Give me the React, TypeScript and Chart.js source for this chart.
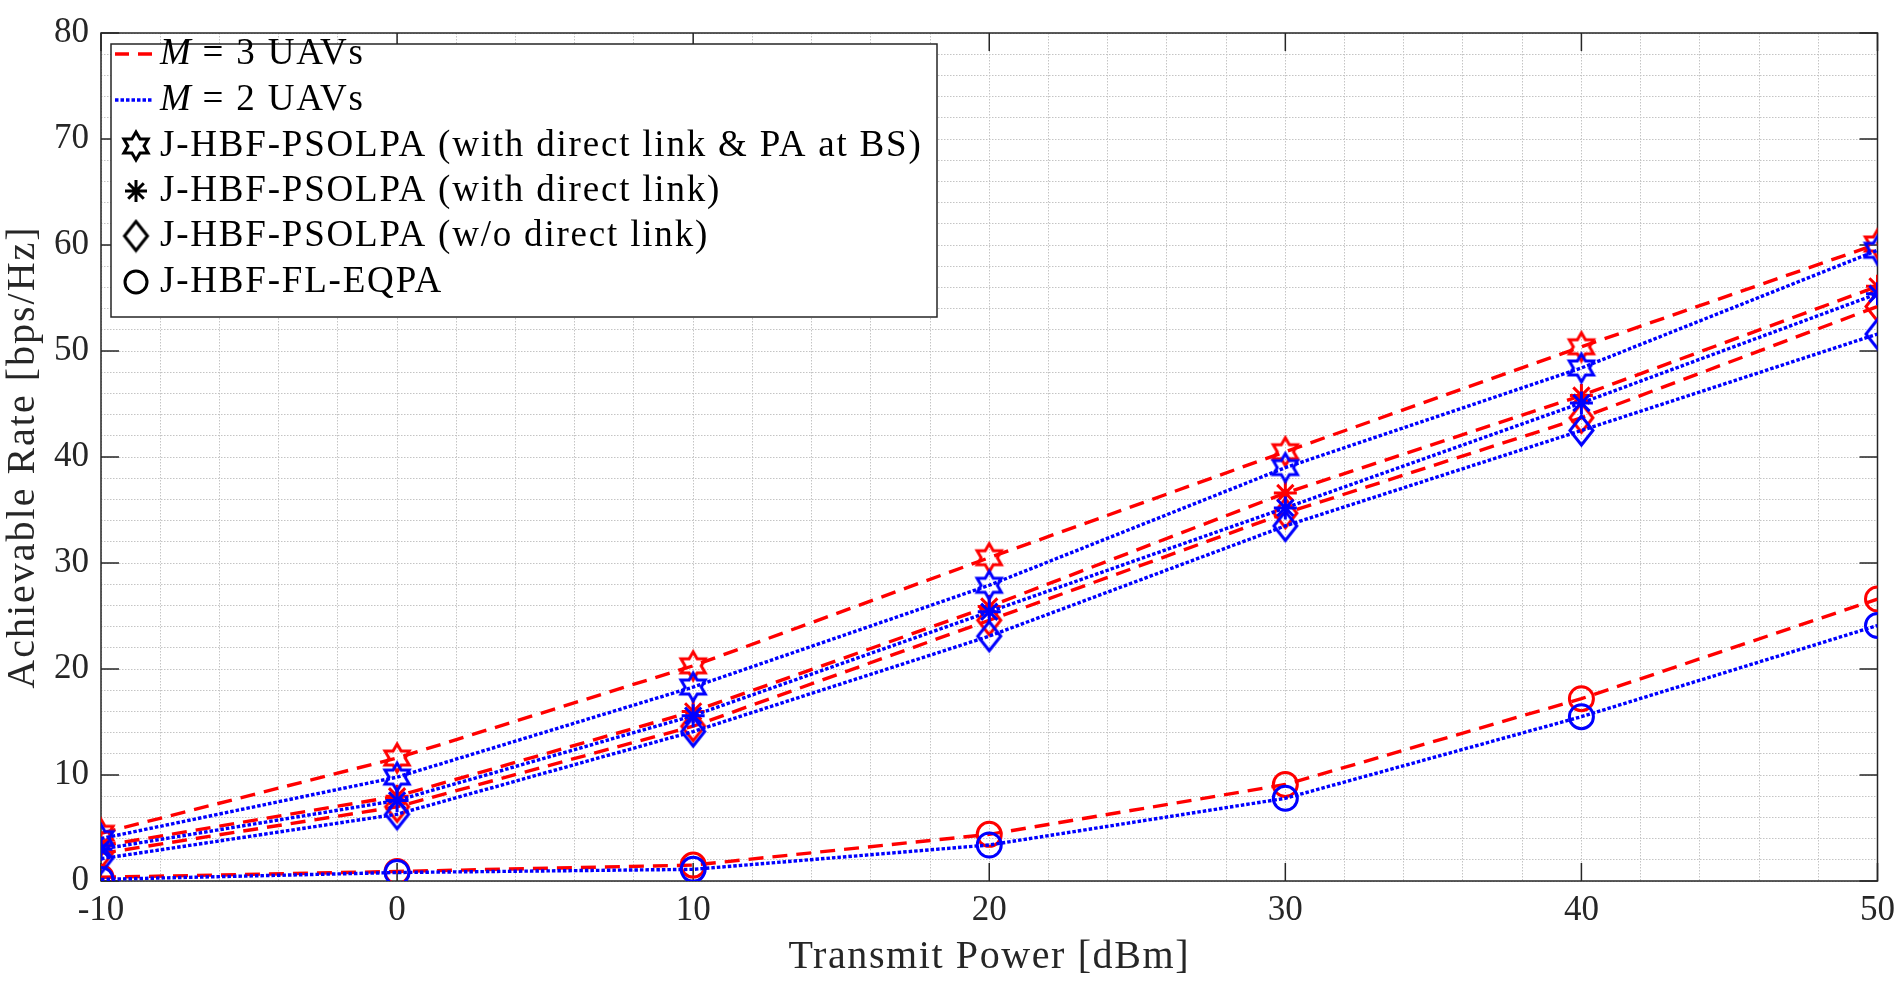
import React, { useEffect, useRef } from "react";
import { Chart, registerables } from "chart.js";

Chart.register(...registerables);

// transmit power [dBm]
const powers = [-10, 0, 10, 20, 30, 40, 50];

// achievable rate [bps/Hz], M = 3 UAVs
const starM3 = [4.5, 11.6, 20.3, 30.5, 40.5, 50.4, 60.1];
const asteriskM3 = [3.3, 8.0, 16.0, 25.9, 36.6, 45.8, 56.1];
const diamondM3 = [2.6, 7.0, 14.6, 24.6, 34.7, 43.7, 54.2];
const circleM3 = [0.35, 0.9, 1.5, 4.4, 9.1, 17.2, 26.6];

// achievable rate [bps/Hz], M = 2 UAVs
const starM2 = [4.0, 9.8, 18.3, 27.9, 39.0, 48.4, 59.5];
const asteriskM2 = [3.0, 7.6, 15.6, 25.4, 35.2, 45.1, 55.4];
const diamondM2 = [2.1, 6.3, 14.1, 23.1, 33.5, 42.5, 51.6];
const circleM2 = [0.15, 0.8, 1.1, 3.4, 7.8, 15.5, 24.1];

const xMajorTicks = [-10, 0, 10, 20, 30, 40, 50];
const yMajorTicks = [0, 10, 20, 30, 40, 50, 60, 70, 80];

const legendLines = ["= 3 UAVs", "= 2 UAVs"];
const legendMethods = [
	"J-HBF-PSOLPA (with direct link & PA at BS)",
	"J-HBF-PSOLPA (with direct link)",
	"J-HBF-PSOLPA (w/o direct link)",
	"J-HBF-FL-EQPA",
];

const FONT = "'Liberation Serif', 'DejaVu Serif', serif";
const RED = "#ff0000";
const BLUE = "#0000ff";
const AXIS = "#262626";

const makeHexagram = (color: string, R = 14) => {
	const size = Math.ceil(R * 2 + 6);
	const c = document.createElement("canvas");
	c.width = size;
	c.height = size;
	const ctx = c.getContext("2d")!;
	const r = R / Math.sqrt(3);
	ctx.beginPath();
	for (let k = 0; k < 12; k++) {
		const ang = -Math.PI / 2 + (k * Math.PI) / 6;
		const rad = k % 2 === 0 ? R : r;
		const px = size / 2 + rad * Math.cos(ang);
		const py = size / 2 + rad * Math.sin(ang);
		if (k === 0) ctx.moveTo(px, py);
		else ctx.lineTo(px, py);
	}
	ctx.closePath();
	ctx.strokeStyle = color;
	ctx.lineWidth = 3;
	ctx.stroke();
	return c;
};

const makeDiamond = (color: string, hw = 11.5, hh = 14.5) => {
	const w = Math.ceil(hw * 2 + 6);
	const h = Math.ceil(hh * 2 + 6);
	const c = document.createElement("canvas");
	c.width = w;
	c.height = h;
	const ctx = c.getContext("2d")!;
	ctx.beginPath();
	ctx.moveTo(w / 2, h / 2 - hh);
	ctx.lineTo(w / 2 + hw, h / 2);
	ctx.lineTo(w / 2, h / 2 + hh);
	ctx.lineTo(w / 2 - hw, h / 2);
	ctx.closePath();
	ctx.strokeStyle = color;
	ctx.lineWidth = 3;
	ctx.stroke();
	return c;
};

const App = () => {
	const chartRef = useRef<HTMLCanvasElement>(null);
	const chartInstance = useRef<Chart | null>(null);

	useEffect(() => {
		if (!chartRef.current) return;
		const ctx = chartRef.current.getContext("2d");
		if (!ctx) return;

		const markers = {
			star: { red: makeHexagram(RED), blue: makeHexagram(BLUE), black: makeHexagram("#000") },
			diamond: { red: makeDiamond(RED), blue: makeDiamond(BLUE), black: makeDiamond("#000") },
		};

		const toPoints = (vals: number[]) => powers.map((p, i) => ({ x: p, y: vals[i] }));

		const series = [
			{ vals: starM3, m: 3, kind: "star" },
			{ vals: asteriskM3, m: 3, kind: "asterisk" },
			{ vals: diamondM3, m: 3, kind: "diamond" },
			{ vals: circleM3, m: 3, kind: "circle" },
			{ vals: starM2, m: 2, kind: "star" },
			{ vals: asteriskM2, m: 2, kind: "asterisk" },
			{ vals: diamondM2, m: 2, kind: "diamond" },
			{ vals: circleM2, m: 2, kind: "circle" },
		];

		const datasets = series.map((s) => {
			const color = s.m === 3 ? RED : BLUE;
			const tone = s.m === 3 ? "red" : "blue";
			let pointStyle: any = "circle";
			if (s.kind === "star") pointStyle = markers.star[tone];
			if (s.kind === "diamond") pointStyle = markers.diamond[tone];
			if (s.kind === "asterisk") pointStyle = "star";
			return {
				label: `${s.kind} M=${s.m}`,
				data: toPoints(s.vals),
				borderColor: color,
				borderWidth: 3.4,
				borderDash: s.m === 3 ? [15, 9] : [3.5, 2],
				backgroundColor: "rgba(0,0,0,0)",
				pointStyle,
				pointRadius: s.kind === "asterisk" ? 11.5 : 12,
				pointBorderWidth: 3,
				pointBorderColor: color,
				pointBackgroundColor: "rgba(0,0,0,0)",
				fill: false,
				tension: 0,
				order: s.m === 3 ? 2 : 1,
			};
		});

		const framePlugin = {
			id: "frame",
			beforeDatasetsDraw(chart: Chart) {
				const c = chart.ctx;
				const a = chart.chartArea;
				const xs = chart.scales.x;
				const ys = chart.scales.y;
				c.save();
				c.strokeStyle = AXIS;
				c.lineWidth = 1.5;
				c.strokeRect(a.left, a.top, a.right - a.left, a.bottom - a.top);
				c.beginPath();
				xMajorTicks.forEach((v) => {
					const px = xs.getPixelForValue(v);
					c.moveTo(px, a.bottom);
					c.lineTo(px, a.bottom - 18);
					c.moveTo(px, a.top);
					c.lineTo(px, a.top + 18);
				});
				yMajorTicks.forEach((v) => {
					const py = ys.getPixelForValue(v);
					c.moveTo(a.left, py);
					c.lineTo(a.left + 18, py);
					c.moveTo(a.right, py);
					c.lineTo(a.right - 18, py);
				});
				c.stroke();
				c.restore();
			},
			afterDraw(chart: Chart) {
				const c = chart.ctx as any;
				const a = chart.chartArea;

				// axis titles
				c.save();
				c.fillStyle = AXIS;
				c.font = `40px ${FONT}`;
				c.textAlign = "center";
				c.textBaseline = "middle";
				c.letterSpacing = "1.6px";
				c.fillText("Transmit Power [dBm]", (a.left + a.right) / 2, 957);
				c.translate(23, (a.top + a.bottom) / 2);
				c.rotate(-Math.PI / 2);
				c.letterSpacing = "2px";
				c.fillText("Achievable Rate [bps/Hz]", 0, 0);
				c.restore();

				// legend
				const lx = a.left + 10;
				const ly = a.top + 11;
				c.save();
				c.fillStyle = "#fff";
				c.fillRect(lx, ly, 826, 273);
				c.strokeStyle = AXIS;
				c.lineWidth = 1.5;
				c.strokeRect(lx, ly, 826, 273);

				const rowY = [54, 100, 146, 191, 236, 282];
				const textX = 160;
				c.lineWidth = 3.4;
				c.setLineDash([14, 9]);
				c.strokeStyle = RED;
				c.beginPath();
				c.moveTo(115, rowY[0]);
				c.lineTo(152, rowY[0]);
				c.stroke();
				c.setLineDash([3.5, 2]);
				c.strokeStyle = BLUE;
				c.beginPath();
				c.moveTo(115, rowY[1]);
				c.lineTo(152, rowY[1]);
				c.stroke();
				c.setLineDash([]);

				c.fillStyle = "#000";
				c.textAlign = "left";
				c.textBaseline = "middle";
				c.letterSpacing = "1.8px";
				legendLines.forEach((t, i) => {
					c.font = `italic 37px ${FONT}`;
					c.fillText("M", textX, rowY[i]);
					const mw = c.measureText("M").width;
					c.font = `37px ${FONT}`;
					c.fillText(t, textX + mw + 10, rowY[i]);
				});

				const mk = [markers.star.black, null, markers.diamond.black, null];
				legendMethods.forEach((t, i) => {
					const y = rowY[i + 2];
					const img = mk[i];
					if (img) {
						c.drawImage(img, 136 - img.width / 2, y - img.height / 2);
					} else if (i === 1) {
						c.strokeStyle = "#000";
						c.lineWidth = 3;
						c.beginPath();
						const r = 11;
						const d = r * Math.SQRT1_2;
						c.moveTo(136, y - r);
						c.lineTo(136, y + r);
						c.moveTo(136 - r, y);
						c.lineTo(136 + r, y);
						c.moveTo(136 - d, y - d);
						c.lineTo(136 + d, y + d);
						c.moveTo(136 - d, y + d);
						c.lineTo(136 + d, y - d);
						c.stroke();
					} else {
						c.strokeStyle = "#000";
						c.lineWidth = 3;
						c.beginPath();
						c.arc(136, y, 11, 0, Math.PI * 2);
						c.stroke();
					}
					c.font = `37px ${FONT}`;
					c.fillText(t, textX, y);
				});
				c.restore();
			},
		};

		if (chartInstance.current) {
			chartInstance.current.destroy();
		}

		chartInstance.current = new Chart(ctx, {
			type: "line",
			data: { datasets: datasets as any },
			options: {
				animation: false,
				responsive: true,
				maintainAspectRatio: false,
				devicePixelRatio: 1,
				layout: { padding: { top: 22, right: 20, left: 0, bottom: 0 } },
				plugins: {
					legend: { display: false },
					tooltip: { enabled: false },
				},
				scales: {
					x: {
						type: "linear",
						min: -10,
						max: 50,
						ticks: {
							stepSize: 2,
							autoSkip: false,
							maxRotation: 0,
							padding: 9,
							color: AXIS,
							font: { family: FONT, size: 35 },
							callback: (v: any) => (Number(v) % 10 === 0 ? String(v) : ""),
						},
						grid: { color: "#c4c4c4", lineWidth: 1, drawTicks: false },
						border: { display: false, dash: [1.5, 1.5] },
						afterFit: (s: any) => {
							s.height = 106;
						},
					},
					y: {
						type: "linear",
						min: 0,
						max: 80,
						ticks: {
							stepSize: 2,
							autoSkip: false,
							padding: 12,
							color: AXIS,
							font: { family: FONT, size: 35 },
							callback: (v: any) => (Number(v) % 10 === 0 ? String(v) : ""),
						},
						grid: { color: "#c4c4c4", lineWidth: 1, drawTicks: false },
						border: { display: false, dash: [1.5, 1.5] },
						afterFit: (s: any) => {
							s.width = 101;
						},
					},
				},
			},
			plugins: [framePlugin],
		});

		return () => {
			if (chartInstance.current) {
				chartInstance.current.destroy();
				chartInstance.current = null;
			}
		};
	}, []);

	return (
		<div style={{ position: "fixed", left: 0, top: 0, width: 1904, height: 987, background: "#fff" }}>
			<canvas ref={chartRef} />
		</div>
	);
};

export default App;
